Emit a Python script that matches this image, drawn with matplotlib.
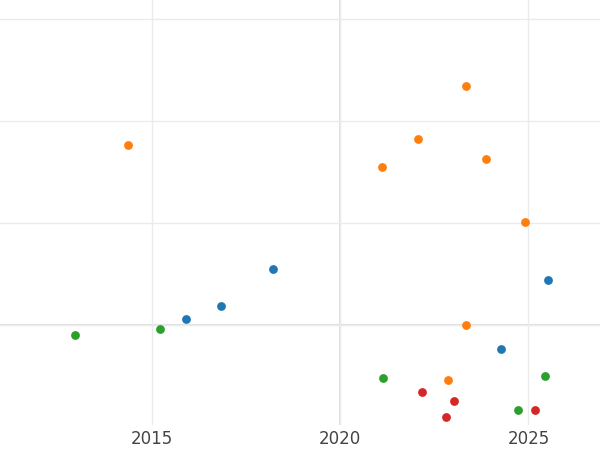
import matplotlib
matplotlib.use("Agg")
import matplotlib.pyplot as plt

blue_x = [2015.9, 2016.84, 2018.22, 2025.53, 2024.26]
blue_y = [0.06, 0.19, 0.55, 0.44, -0.24]
orange_x = [2014.36, 2021.12, 2022.07, 2023.35, 2023.88, 2024.92, 2023.35, 2022.85]
orange_y = [1.77, 1.55, 1.83, 2.35, 1.63, 1.01, 0.0, -0.54]
green_x = [2012.95, 2015.21, 2021.14, 2025.43, 2024.73]
green_y = [-0.10, -0.04, -0.52, -0.50, -0.83]
red_x = [2022.18, 2023.03, 2022.82, 2025.16]
red_y = [-0.66, -0.75, -0.90, -0.83]

fig = plt.figure(figsize=(6, 4.5), dpi=100)
ax = fig.add_axes([0, 0.056, 1, 0.944])
for xs, ys, c in [(blue_x, blue_y, "#1f77b4"), (orange_x, orange_y, "#ff7f0e"),
                  (green_x, green_y, "#2ca02c"), (red_x, red_y, "#d62728")]:
    ax.scatter(xs, ys, s=40, color=c, zorder=3, linewidths=0)

ax.set_xlim(2010.96, 2026.9)
ax.set_ylim(-0.98, 3.19)
ax.set_xticks([2015, 2020, 2025])
ax.set_yticks([0, 1, 2, 3])
ax.set_yticklabels([])
ax.grid(True, color="#ebebeb", linewidth=1)
ax.axhline(0, color="#e0e0e0", lw=1.5, zorder=1)
ax.axvline(2020, color="#e0e0e0", lw=1.5, zorder=1)
for s in ax.spines.values():
    s.set_visible(False)
ax.tick_params(length=0, labelsize=12, labelcolor="#444444", pad=4)
fig.savefig("out.png", dpi=100)
